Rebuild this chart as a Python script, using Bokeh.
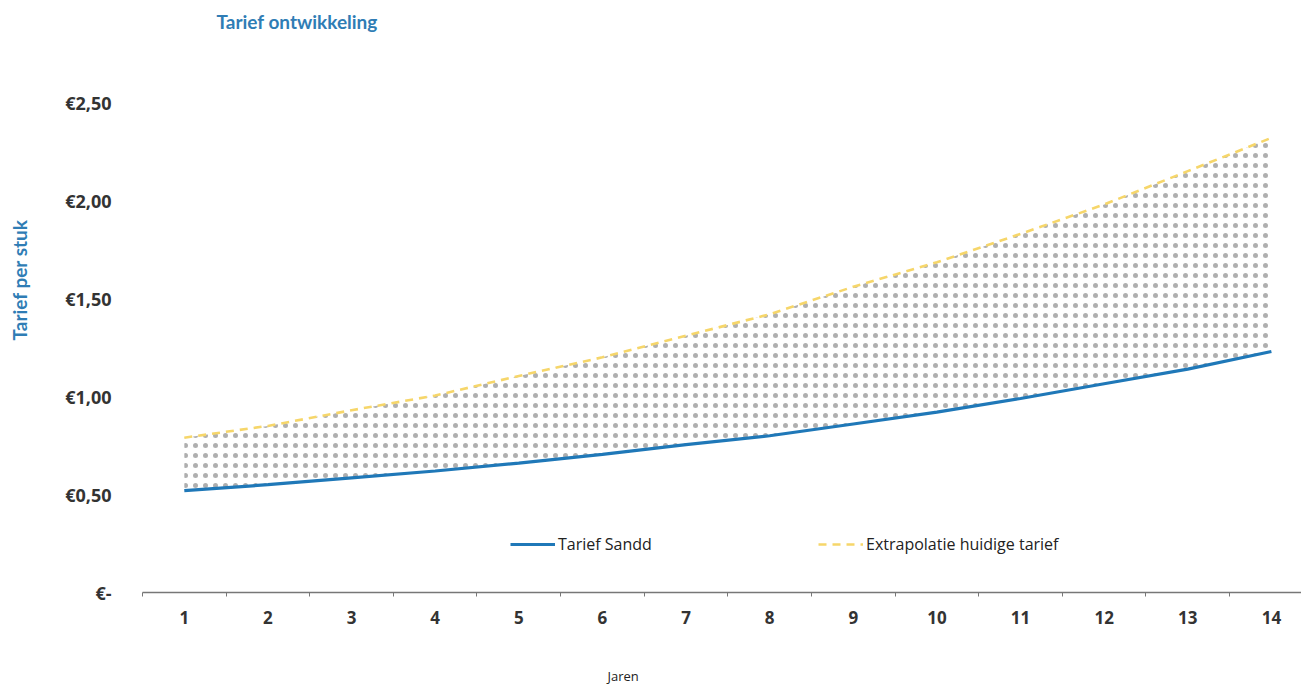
from bokeh.plotting import figure
from bokeh.models import Range1d, FixedTicker, Legend, LegendItem, Title, LinearAxis
from bokeh.embed import file_html
from bokeh.resources import INLINE

# ---- data ----
years = [1, 2, 3, 4, 5, 6, 7, 8, 9, 10, 11, 12, 13, 14]
tarief_sandd = [0.52, 0.55, 0.585, 0.62, 0.66, 0.705, 0.755, 0.80, 0.86, 0.92, 0.99, 1.065, 1.14, 1.23]
extrapolatie = [0.79, 0.85, 0.93, 1.005, 1.105, 1.20, 1.31, 1.42, 1.56, 1.685, 1.83, 1.98, 2.15, 2.32]
y_ticks = [0, 0.5, 1.0, 1.5, 2.0, 2.5]
y_tick_labels = ["€-", "€0,50", "€1,00", "€1,50", "€2,00", "€2,50"]
x_boundaries = [0.5, 1.5, 2.5, 3.5, 4.5, 5.5, 6.5, 7.5, 8.5, 9.5, 10.5, 11.5, 12.5, 13.5]

BLUE = "#1f78b8"
YELLOW = "#f6d66a"
TITLE_BLUE = "#2f7db5"
TEXT = "#333333"

p = figure(width=1301, height=687, output_backend="svg", toolbar_location=None,
           x_range=Range1d(0.5, 14.36), y_range=Range1d(0, 2.832),
           min_border_left=142, min_border_right=0, min_border_top=37, min_border_bottom=95,
           title="Tarief ontwikkeling")
p.outline_line_color = None
p.grid.visible = False
p.background_fill_color = "white"
p.border_fill_color = "white"

p.title.text_font = "Lato"
p.title.text_font_size = "19px"
p.title.text_font_style = "bold"
p.title.text_color = TITLE_BLUE
p.title.offset = 74
p.title.align = "left"

# shaded (dotted) area between the series
p.varea(x=years, y1=tarief_sandd, y2=extrapolatie, fill_color=None, fill_alpha=0,
        hatch_pattern="dot", hatch_color="#a6a6a6", hatch_scale=10, hatch_weight=0.5, hatch_alpha=0.9)

r_sandd = p.line(years, tarief_sandd, line_color=BLUE, line_width=3.2)
r_extra = p.line(years, extrapolatie, line_color=YELLOW, line_width=2.6, line_dash="8 6")

# x axis
xa = p.xaxis[0]
xa.ticker = FixedTicker(ticks=years, minor_ticks=x_boundaries)
xa.axis_line_color = "#777777"
xa.axis_line_width = 1.5
xa.major_tick_line_color = None
xa.minor_tick_line_color = "#777777"
xa.minor_tick_out = 4
xa.minor_tick_in = 0
xa.major_label_standoff = 12
xa.major_label_text_font = "Open Sans"
xa.major_label_text_font_size = "17px"
xa.major_label_text_font_style = "bold"
xa.major_label_text_color = TEXT

# y axis
ya = p.yaxis[0]
ya.ticker = FixedTicker(ticks=y_ticks)
ya.major_label_overrides = dict(zip(y_ticks, y_tick_labels))
ya.axis_line_color = None
ya.major_tick_line_color = None
ya.minor_tick_line_color = None
ya.major_label_standoff = 25
ya.major_label_text_font = "Open Sans"
ya.major_label_text_font_size = "18px"
ya.major_label_text_font_style = "bold"
ya.major_label_text_color = TEXT


def spacer_axis(size):
    # an invisible axis used only to reserve space in a side panel
    return LinearAxis(ticker=FixedTicker(ticks=[1]), major_label_overrides={1: ""},
                      axis_line_color=None, major_tick_line_color=None, minor_tick_line_color=None,
                      major_tick_out=size, major_tick_in=0, minor_tick_out=0, minor_tick_in=0,
                      major_label_standoff=0, major_label_text_font_size="1px")


p.add_layout(spacer_axis(23), "left")
p.add_layout(Title(text="Tarief per stuk", align="left", offset=252, standoff=14,
                   vertical_align="top",
                   text_font="Lato", text_font_size="19px", text_font_style="bold",
                   text_color=TITLE_BLUE), "left")

p.add_layout(spacer_axis(40), "below")
p.add_layout(Title(text="Jaren", align="left", offset=465, standoff=0,
                   vertical_align="top",
                   text_font="Open Sans", text_font_size="13px", text_font_style="normal",
                   text_color="#222222"), "below")

legend = Legend(items=[LegendItem(label="Tarief Sandd", renderers=[r_sandd]),
                       LegendItem(label="Extrapolatie huidige tarief", renderers=[r_extra])],
                location=(368, 37), orientation="horizontal",
                glyph_width=45, glyph_height=16, label_standoff=3, label_width=260,
                spacing=0, padding=0, margin=0,
                border_line_color=None, background_fill_alpha=0,
                label_text_font="Open Sans", label_text_font_size="16px",
                label_text_color="#222222")
p.add_layout(legend)

open("out.html", "w").write(file_html(p, INLINE))
